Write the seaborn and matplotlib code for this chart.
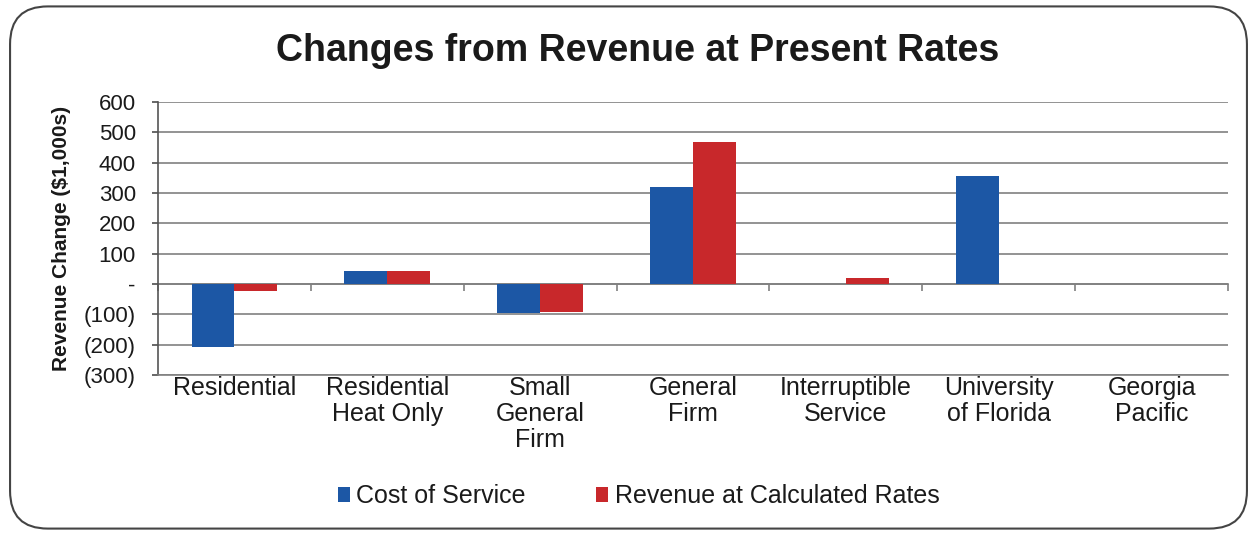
import numpy as np
import pandas as pd
import matplotlib
matplotlib.use("Agg")
import matplotlib.pyplot as plt
from matplotlib.patches import FancyBboxPatch
from matplotlib.ticker import FuncFormatter
import seaborn as sns

categories = ["Residential", "Residential\nHeat Only", "Small\nGeneral\nFirm", "General\nFirm",
              "Interruptible\nService", "University\nof Florida", "Georgia\nPacific"]
cost_of_service = [-207, 44, -95, 320, 0, 357, 0]
revenue_calc = [-22, 44, -92, 468, 20, 0, 0]
series_names = ["Cost of Service", "Revenue at Calculated Rates"]
y_ticks = [-300, -200, -100, 0, 100, 200, 300, 400, 500, 600]

df = pd.DataFrame({
    "Category": categories * 2,
    "Series": [series_names[0]] * len(categories) + [series_names[1]] * len(categories),
    "Value": cost_of_service + revenue_calc,
})

sns.set_theme(style="white")
plt.rcParams["font.family"] = ["Liberation Sans", "DejaVu Sans"]

fig = plt.figure(figsize=(12.57, 5.35), dpi=100)
ax = fig.add_axes([158/1257, 1 - 375/535, (1228-158)/1257, (375-102)/535])

colors = ["#1C57A5", "#C8282B"]
sns.barplot(data=df, x="Category", y="Value", hue="Series", palette=colors,
            width=0.56, gap=0, saturation=1, ax=ax, legend=True, edgecolor="none")

ax.set_ylim(-300, 600)
ax.set_xlim(-0.5, len(categories) - 0.5)
ax.set_yticks(y_ticks)
ax.yaxis.grid(True, color="#808080", linewidth=1.2)
ax.set_axisbelow(True)

def fmt(v, pos):
    if v == 0:
        return "-"
    if v < 0:
        return f"({abs(int(v))})"
    return f"{int(v)}"
ax.yaxis.set_major_formatter(FuncFormatter(fmt))
ax.tick_params(axis="y", labelsize=16, length=4, color="#555555", direction="out", left=True, pad=12)
ax.tick_params(axis="x", labelsize=18, length=0, pad=1)
ax.set_xticks(range(len(categories)))
ax.set_xticklabels(categories, va="top", linespacing=1.1)
for lbl in ax.get_xticklabels():
    lbl.set_color("#1a1a1a")
for lbl in ax.get_yticklabels():
    lbl.set_color("#1a1a1a")

for s in ["top", "right"]:
    ax.spines[s].set_visible(False)
ax.spines["bottom"].set_color("#808080")
ax.spines["bottom"].set_linewidth(1.2)
ax.spines["left"].set_color("#555555")
ax.spines["left"].set_linewidth(1.2)

ax.set_xlabel("")
ax.set_ylabel("Revenue Change (\\$1,000s)", fontsize=15, fontweight="bold", color="#1a1a1a")
ax.yaxis.set_label_coords(-0.081, 0.5)

# zero axis line with category boundary ticks
sec = ax.secondary_xaxis(1/3)
sec.set_xticks(np.arange(len(categories) + 1) - 0.5)
sec.set_xticklabels([])
sec.tick_params(length=5, color="#808080", width=1.2, direction="out")
sec.spines["bottom"].set_color("#808080")
sec.spines["bottom"].set_linewidth(1.2)

fig.text(0.507, 0.905, "Changes from Revenue at Present Rates", ha="center", va="center",
         fontsize=27, fontweight="bold", color="#1a1a1a")

leg = ax.legend(loc="center", bbox_to_anchor=(0.508, 0.072), bbox_transform=fig.transFigure,
                ncol=2, frameon=False, fontsize=18, handlelength=0.5, handleheight=0.5,
                handletextpad=0.25, columnspacing=2.8)
for t in leg.get_texts():
    t.set_color("#1a1a1a")

border = FancyBboxPatch((0.008, 0.012), 0.984, 0.976, boxstyle="round,pad=0,rounding_size=0.03",
                        transform=fig.transFigure, facecolor="none", edgecolor="#444444",
                        linewidth=1.5, mutation_aspect=1257/535)
fig.patches.append(border)

fig.savefig("out.png", dpi=100)
